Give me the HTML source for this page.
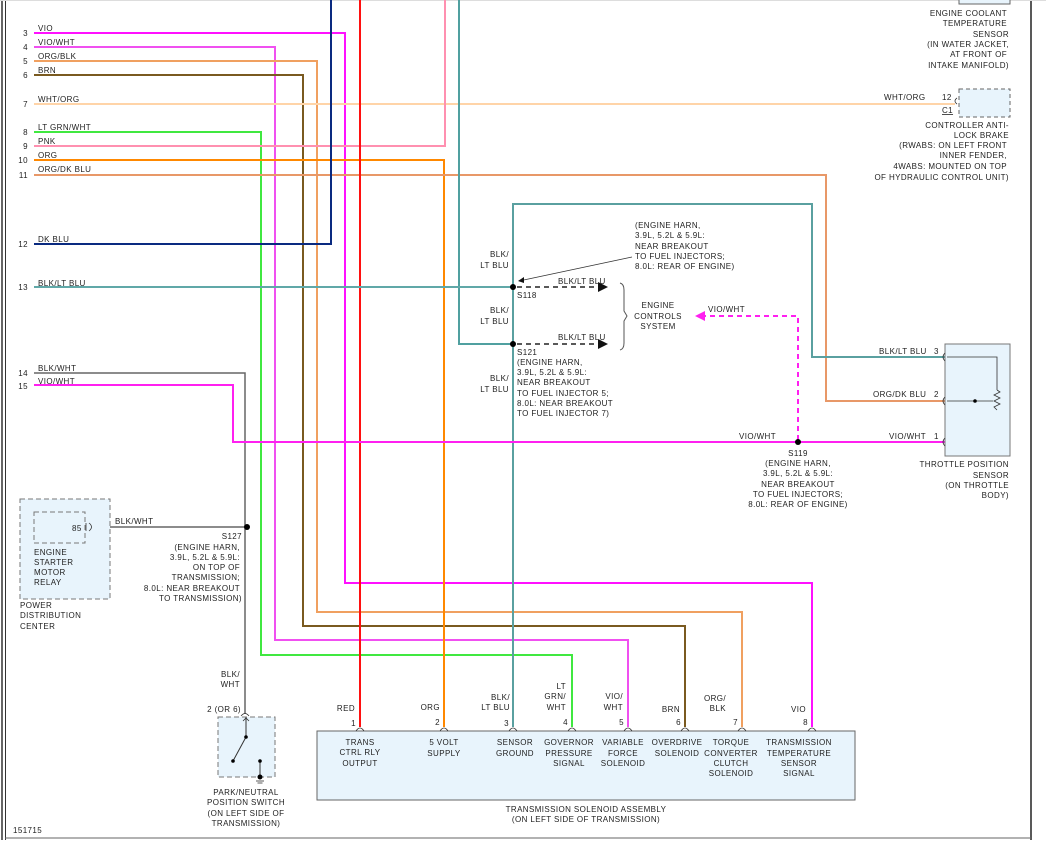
<!DOCTYPE html>
<html><head><meta charset="utf-8"><style>
body{margin:0;background:#fff}
svg text{font-family:"Liberation Sans",sans-serif;font-size:8px;fill:#222;letter-spacing:0.4px}
</style></head><body>
<svg width="1046" height="851" viewBox="0 0 1046 851" xmlns="http://www.w3.org/2000/svg">
<rect width="1046" height="851" fill="#fff"/>
<!-- borders -->
<line x1="2" y1="0" x2="2" y2="840" stroke="#333" stroke-width="1.5"/>
<line x1="5.5" y1="0" x2="5.5" y2="840" stroke="#333" stroke-width="1"/>
<line x1="1031" y1="0" x2="1031" y2="840" stroke="#222" stroke-width="1.5"/>
<line x1="5" y1="838" x2="1031" y2="838" stroke="#666" stroke-width="1"/>
<line x1="0" y1="0.5" x2="1046" y2="0.5" stroke="#ddd" stroke-width="1"/>

<g fill="none" stroke-width="2">
<!-- 3 VIO -->
<polyline points="34,33 345,33 345,583 812,583 812,727" stroke="#ff10ff"/>
<!-- 4 VIO/WHT -->
<polyline points="34,47 275,47 275,640 628,640 628,727" stroke="#f050f0"/>
<!-- 5 ORG/BLK -->
<polyline points="34,61 317,61 317,612 742,612 742,727" stroke="#f0a060"/>
<!-- 6 BRN -->
<polyline points="34,75 303,75 303,626 685,626 685,727" stroke="#7a5a20"/>
<!-- 7 WHT/ORG -->
<polyline points="34,104 955,104" stroke="#ffd4a8"/>
<!-- 8 LT GRN/WHT -->
<polyline points="34,132 261,132 261,655 572,655 572,727" stroke="#40e840"/>
<!-- 9 PNK -->
<polyline points="34,146 445,146 445,0" stroke="#ff90b0"/>
<!-- 10 ORG -->
<polyline points="34,160 444,160 444,727" stroke="#ff8800"/>
<!-- 11 ORG/DK BLU -->
<polyline points="34,175 826,175 826,401 945,401" stroke="#e89868"/>
<!-- 12 DK BLU -->
<polyline points="34,244 331,244 331,0" stroke="#0a2a80"/>
<!-- RED -->
<polyline points="360,0 360,727" stroke="#ff1010"/>
<!-- teal from top -->
<polyline points="459,0 459,344 513,344" stroke="#50a0a0"/>
<!-- 13 BLK/LT BLU -->
<polyline points="34,287 513,287" stroke="#60a8a8"/>
<polyline points="513,727 513,204 812,204 812,357 945,357" stroke="#5aa0a0"/>
<!-- 14 BLK/WHT -->
<polyline points="34,373 245,373 245,714" stroke="#666" stroke-width="1.5"/>
<polyline points="90,527 245,527" stroke="#666" stroke-width="1.5"/>
<!-- 15 VIO/WHT -->
<polyline points="34,385 233,385 233,442 945,442" stroke="#ff20f0"/>
<!-- dashed -->
<polyline points="517,287 600,287" stroke="#222" stroke-width="1.5" stroke-dasharray="5,4"/>
<polyline points="517,344 600,344" stroke="#222" stroke-width="1.5" stroke-dasharray="5,4"/>
<polyline points="798,440 798,316 703,316" stroke="#ff20f0" stroke-dasharray="5,4"/>
</g>
<!-- arrows -->
<polygon points="598,282 608,287 598,292" fill="#111"/>
<polygon points="598,339 608,344 598,349" fill="#111"/>
<polygon points="705,311 695,316 705,321" fill="#ff20f0"/>
<path d="M620,283 Q624,284 624,290 L624,311 L627,316 L624,321 L624,343 Q624,349 620,350" fill="none" stroke="#555" stroke-width="1"/>
<line x1="632" y1="257" x2="519" y2="281" stroke="#333" stroke-width="0.8"/>
<polygon points="518,281 524,277 524,283" fill="#111"/>
<!-- splice dots -->
<circle cx="513" cy="287" r="3" fill="#000"/>
<circle cx="513" cy="344" r="3" fill="#000"/>
<circle cx="798" cy="442" r="3" fill="#000"/>
<circle cx="247" cy="527" r="3" fill="#000"/>

<!-- wire labels left -->
<g text-anchor="end">
<text x="28" y="36">3</text><text x="28" y="50">4</text><text x="28" y="64">5</text><text x="28" y="78">6</text>
<text x="28" y="107">7</text><text x="28" y="135">8</text><text x="28" y="149">9</text><text x="28" y="163">10</text>
<text x="28" y="178">11</text><text x="28" y="247">12</text><text x="28" y="290">13</text><text x="28" y="376">14</text><text x="28" y="389">15</text>
</g>
<text x="38" y="31">VIO</text><text x="38" y="45">VIO/WHT</text><text x="38" y="59">ORG/BLK</text><text x="38" y="73">BRN</text>
<text x="38" y="102">WHT/ORG</text><text x="38" y="130">LT GRN/WHT</text><text x="38" y="144">PNK</text><text x="38" y="158">ORG</text>
<text x="38" y="172">ORG/DK BLU</text><text x="38" y="242">DK BLU</text><text x="38" y="286">BLK/LT BLU</text><text x="38" y="371">BLK/WHT</text><text x="38" y="384">VIO/WHT</text>

<!-- center labels -->
<g text-anchor="end">
<text x="509" y="257">BLK/</text><text x="509" y="268">LT BLU</text>
<text x="509" y="313">BLK/</text><text x="509" y="324">LT BLU</text>
<text x="509" y="381">BLK/</text><text x="509" y="392">LT BLU</text>
</g>
<text x="558" y="284">BLK/LT BLU</text>
<text x="558" y="340">BLK/LT BLU</text>
<text x="517" y="298">S118</text>
<text x="517" y="355">S121</text>
<text x="517" y="365">(ENGINE HARN,</text><text x="517" y="375">3.9L, 5.2L &amp; 5.9L:</text><text x="517" y="385">NEAR BREAKOUT</text>
<text x="517" y="396">TO FUEL INJECTOR 5;</text><text x="517" y="406">8.0L: NEAR BREAKOUT</text><text x="517" y="416">TO FUEL INJECTOR 7)</text>
<text x="635" y="228">(ENGINE HARN,</text><text x="635" y="238">3.9L, 5.2L &amp; 5.9L:</text><text x="635" y="249">NEAR BREAKOUT</text>
<text x="635" y="259">TO FUEL INJECTORS;</text><text x="635" y="269">8.0L: REAR OF ENGINE)</text>
<g text-anchor="middle">
<text x="658" y="308">ENGINE</text><text x="658" y="319">CONTROLS</text><text x="658" y="329">SYSTEM</text>
<text x="798" y="456">S119</text><text x="798" y="466">(ENGINE HARN,</text><text x="798" y="476">3.9L, 5.2L &amp; 5.9L:</text>
<text x="798" y="487">NEAR BREAKOUT</text><text x="798" y="497">TO FUEL INJECTORS;</text><text x="798" y="507">8.0L: REAR OF ENGINE)</text>
</g>
<text x="708" y="312">VIO/WHT</text>
<text x="739" y="439">VIO/WHT</text>
<text x="889" y="439">VIO/WHT</text>
<text x="879" y="354">BLK/LT BLU</text>
<text x="873" y="397">ORG/DK BLU</text>
<text x="934" y="354">3</text><text x="934" y="397">2</text><text x="934" y="439">1</text>

<!-- TPS -->
<rect x="945" y="344" width="65" height="112" fill="#e8f4fc" stroke="#777" stroke-width="1"/>
<path d="M945,353 Q941,357 945,361 M945,397 Q941,401 945,405 M945,438 Q941,442 945,446" fill="none" stroke="#333" stroke-width="0.8"/>
<polyline points="947,357 997,357 997,390 M997,410 997,442 947,442" fill="none" stroke="#333" stroke-width="0.8"/>
<polyline points="997,390 1000,392 994,395 1000,398 994,401 1000,404 994,407 997,410" fill="none" stroke="#333" stroke-width="0.8"/>
<line x1="947" y1="401" x2="993" y2="401" stroke="#333" stroke-width="0.8"/>
<circle cx="975" cy="401" r="1.8" fill="#000"/>
<g text-anchor="end">
<text x="1009" y="467">THROTTLE POSITION</text><text x="1009" y="478">SENSOR</text><text x="1009" y="488">(ON THROTTLE</text><text x="1009" y="498">BODY)</text>
</g>

<!-- ABS -->
<rect x="959" y="89" width="51" height="28" fill="#e8f4fc" stroke="#666" stroke-width="1" stroke-dasharray="4,3"/>
<path d="M957,98 Q953,101 957,104" fill="none" stroke="#333" stroke-width="0.8"/>
<text x="884" y="100">WHT/ORG</text>
<text x="942" y="100">12</text>
<text x="942" y="113" text-decoration="underline">C1</text>
<g text-anchor="end">
<text x="1009" y="128">CONTROLLER ANTI-</text><text x="1009" y="138">LOCK BRAKE</text><text x="1007" y="148">(RWABS: ON LEFT FRONT</text>
<text x="1007" y="158">INNER FENDER,</text><text x="1007" y="169">4WABS: MOUNTED ON TOP</text><text x="1009" y="180">OF HYDRAULIC CONTROL UNIT)</text>
<text x="1007" y="16">ENGINE COOLANT</text><text x="1007" y="26">TEMPERATURE</text><text x="1009" y="37">SENSOR</text>
<text x="1009" y="47">(IN WATER JACKET,</text><text x="1007" y="57">AT FRONT OF</text><text x="1009" y="68">INTAKE MANIFOLD)</text>
</g>
<rect x="959" y="-2" width="51" height="6" fill="#e8f4fc" stroke="#666" stroke-width="1"/>

<!-- PDC -->
<rect x="20" y="499" width="90" height="100" fill="#e8f4fc" stroke="#777" stroke-width="1" stroke-dasharray="5,3"/>
<rect x="34" y="512" width="51" height="31" fill="none" stroke="#777" stroke-width="1" stroke-dasharray="5,3"/>
<line x1="86" y1="523" x2="86" y2="531" stroke="#333" stroke-width="0.8"/>
<path d="M89,523 Q94,527 89,531" fill="none" stroke="#333" stroke-width="0.8"/>
<text x="72" y="531">85</text>
<text x="34" y="555">ENGINE</text><text x="34" y="565">STARTER</text><text x="34" y="575">MOTOR</text><text x="34" y="585">RELAY</text>
<text x="20" y="608">POWER</text><text x="20" y="618">DISTRIBUTION</text><text x="20" y="629">CENTER</text>
<text x="115" y="524">BLK/WHT</text>
<g text-anchor="end">
<text x="242" y="539">S127</text><text x="240" y="550">(ENGINE HARN,</text><text x="240" y="560">3.9L, 5.2L &amp; 5.9L:</text>
<text x="240" y="570">ON TOP OF</text><text x="240" y="580">TRANSMISSION;</text><text x="240" y="591">8.0L: NEAR BREAKOUT</text><text x="242" y="601">TO TRANSMISSION)</text>
<text x="240" y="677">BLK/</text><text x="240" y="687">WHT</text>
<text x="241" y="712">2 (OR 6)</text>
</g>
<!-- switch -->
<rect x="218" y="717" width="57" height="60" fill="#e8f4fc" stroke="#777" stroke-width="1" stroke-dasharray="5,3"/>
<path d="M241,716 Q245,711 249,716" fill="none" stroke="#333" stroke-width="0.8"/>
<line x1="246" y1="717" x2="246" y2="737" stroke="#333" stroke-width="1"/>
<polyline points="243,721 246,718 249,721" fill="none" stroke="#333" stroke-width="0.8"/>
<line x1="246" y1="737" x2="233" y2="761" stroke="#333" stroke-width="1"/>
<circle cx="246" cy="737" r="1.8" fill="#000"/><circle cx="233" cy="761" r="1.8" fill="#000"/>
<line x1="260" y1="761" x2="260" y2="777" stroke="#333" stroke-width="1"/>
<circle cx="260" cy="761" r="1.8" fill="#000"/><circle cx="260" cy="777" r="2.5" fill="#000"/>
<line x1="256" y1="781" x2="264" y2="781" stroke="#333" stroke-width="0.8"/>
<line x1="257.5" y1="783" x2="262.5" y2="783" stroke="#333" stroke-width="0.8"/>
<g text-anchor="middle">
<text x="246" y="795">PARK/NEUTRAL</text><text x="246" y="805">POSITION SWITCH</text><text x="246" y="816">(ON LEFT SIDE OF</text><text x="246" y="826">TRANSMISSION)</text>
</g>
<text x="13" y="833">151715</text>

<!-- trans solenoid -->
<rect x="317" y="731" width="538" height="69" fill="#e8f4fc" stroke="#666" stroke-width="1"/>
<g fill="none" stroke="#333" stroke-width="0.8">
<path d="M356,731 Q360,725 364,731"/><path d="M440,731 Q444,725 448,731"/><path d="M509,731 Q513,725 517,731"/><path d="M568,731 Q572,725 576,731"/>
<path d="M624,731 Q628,725 632,731"/><path d="M681,731 Q685,725 689,731"/><path d="M738,731 Q742,725 746,731"/><path d="M808,731 Q812,725 816,731"/>
</g>
<g text-anchor="end">
<text x="356" y="726">1</text><text x="440" y="725">2</text><text x="509" y="726">3</text><text x="568" y="725">4</text>
<text x="624" y="725">5</text><text x="681" y="725">6</text><text x="738" y="725">7</text><text x="808" y="725">8</text>
<text x="355" y="711">RED</text><text x="440" y="710">ORG</text>
<text x="510" y="700">BLK/</text><text x="510" y="710">LT BLU</text>
<text x="566" y="689">LT</text><text x="566" y="699">GRN/</text><text x="566" y="710">WHT</text>
<text x="623" y="699">VIO/</text><text x="623" y="710">WHT</text>
<text x="680" y="712">BRN</text>
<text x="726" y="701">ORG/</text><text x="726" y="711">BLK</text>
<text x="806" y="712">VIO</text>
</g>
<g text-anchor="middle">
<text x="360" y="745">TRANS</text><text x="360" y="755">CTRL RLY</text><text x="360" y="766">OUTPUT</text>
<text x="444" y="745">5 VOLT</text><text x="444" y="756">SUPPLY</text>
<text x="515" y="745">SENSOR</text><text x="515" y="756">GROUND</text>
<text x="569" y="745">GOVERNOR</text><text x="569" y="756">PRESSURE</text><text x="569" y="766">SIGNAL</text>
<text x="623" y="745">VARIABLE</text><text x="623" y="756">FORCE</text><text x="623" y="766">SOLENOID</text>
<text x="677" y="745">OVERDRIVE</text><text x="677" y="756">SOLENOID</text>
<text x="731" y="745">TORQUE</text><text x="731" y="756">CONVERTER</text><text x="731" y="766">CLUTCH</text><text x="731" y="776">SOLENOID</text>
<text x="799" y="745">TRANSMISSION</text><text x="799" y="756">TEMPERATURE</text><text x="799" y="766">SENSOR</text><text x="799" y="776">SIGNAL</text>
<text x="586" y="812">TRANSMISSION SOLENOID ASSEMBLY</text><text x="586" y="822">(ON LEFT SIDE OF TRANSMISSION)</text>
</g>
</svg>
</body></html>
